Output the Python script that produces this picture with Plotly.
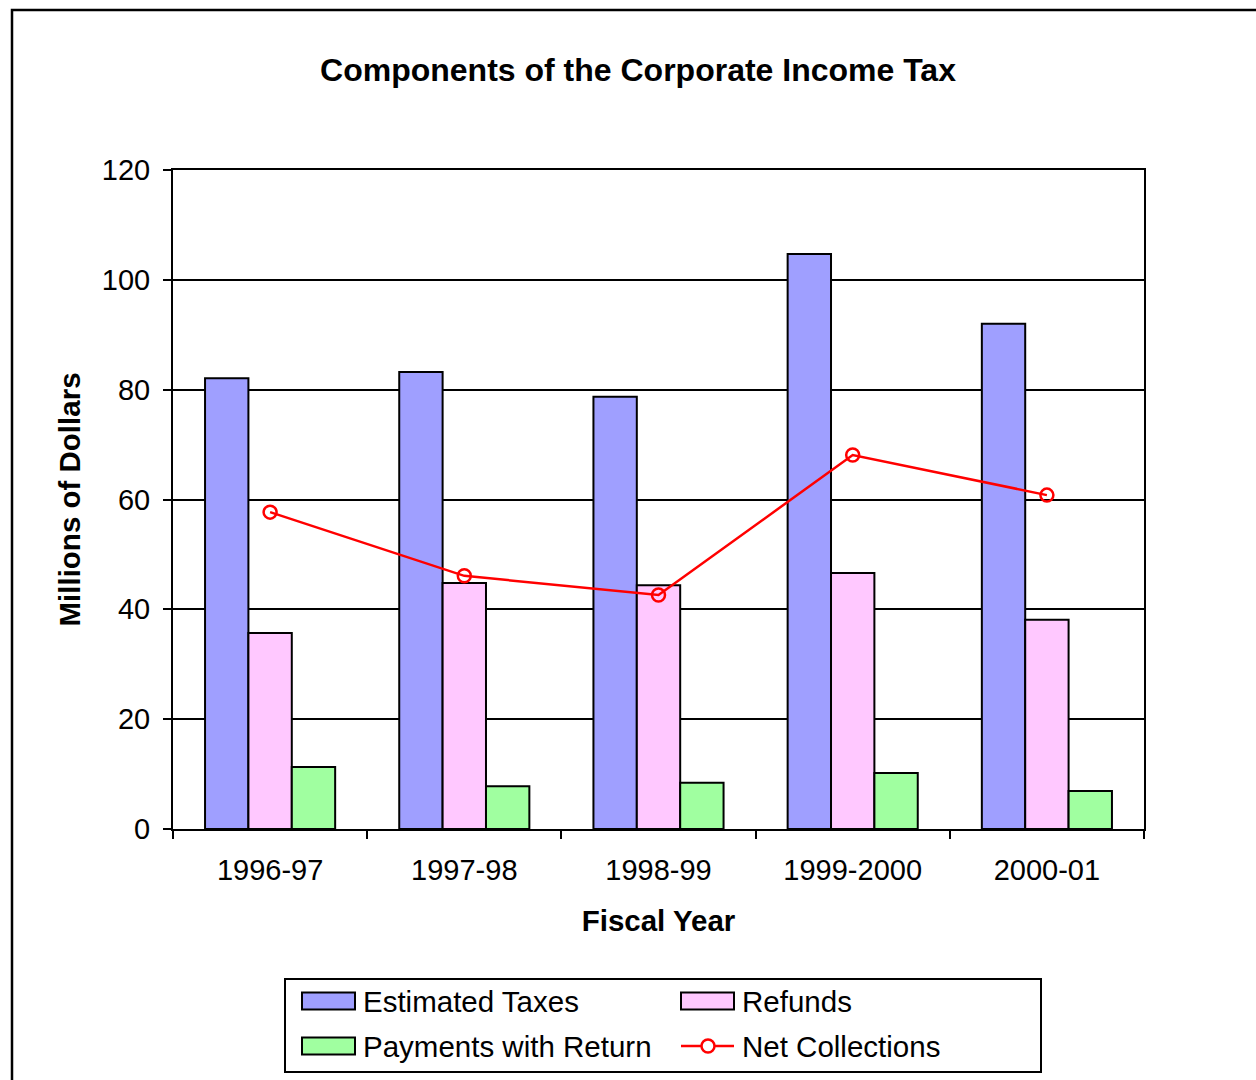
import plotly.graph_objects as go

# Fiscal years and the components of the corporate income tax (millions of dollars)
fiscal_years = ["1996-97", "1997-98", "1998-99", "1999-2000", "2000-01"]
estimated_taxes = [82.1, 83.2, 78.7, 104.7, 92.0]
refunds = [35.7, 44.8, 44.4, 46.6, 38.1]
payments_with_return = [11.3, 7.8, 8.4, 10.2, 6.9]
net_collections = [57.7, 46.1, 42.6, 68.1, 60.8]

series_names = ["Estimated Taxes", "Refunds", "Payments with Return", "Net Collections"]
bar_colors = ["#9F9FFF", "#FFC8FF", "#A0FFA0"]
line_color = "#FF0000"

FONT = "Arial, Liberation Sans, sans-serif"
W, H = 1256, 1080
L, R, T, B = 173, 112, 170, 251
PW, PH = W - L - R, H - T - B


def px_to_paper(x, y):
    return (x - L) / PW, (H - B - y) / PH


fig = go.Figure()
bar_line = dict(color="black", width=2)
for name, vals, col in zip(series_names[:3],
                           [estimated_taxes, refunds, payments_with_return], bar_colors):
    fig.add_trace(go.Bar(x=fiscal_years, y=vals, name=name,
                         marker=dict(color=col, line=bar_line)))
fig.add_trace(go.Scatter(x=fiscal_years, y=net_collections, name=series_names[3],
                         mode="lines+markers",
                         line=dict(color=line_color, width=2.5),
                         marker=dict(symbol="circle-open", size=13, color=line_color,
                                     line=dict(color=line_color, width=2.5))))

shapes = []
annotations = []


def rect_px(x0, y0, x1, y1, **kw):
    px0, py1 = px_to_paper(x0, y0)
    px1, py0 = px_to_paper(x1, y1)
    shapes.append(dict(type="rect", xref="paper", yref="paper",
                       x0=px0, x1=px1, y0=py0, y1=py1, layer="above", **kw))


# outer chart frame
rect_px(12, 10, 1300, 1120, line=dict(color="black", width=2.5),
        fillcolor="rgba(0,0,0,0)")

# legend box with two columns of entries
rect_px(285, 979, 1041, 1072, line=dict(color="black", width=2), fillcolor="white")
legend_slots = [(302, 1001), (681, 1001), (302, 1046), (681, 1046)]
for idx, (sx, sy) in enumerate(legend_slots):
    if idx < 3:
        rect_px(sx, sy - 8.5, sx + 53, sy + 8.5, line=dict(color="black", width=2),
                fillcolor=bar_colors[idx])
    else:
        lx0, ly0 = px_to_paper(sx, sy)
        lx1, _ = px_to_paper(sx + 53, sy)
        shapes.append(dict(type="line", xref="paper", yref="paper", x0=lx0, x1=lx1,
                           y0=ly0, y1=ly0, line=dict(color=line_color, width=2.5),
                           layer="above"))
        rect_px(sx + 20.5, sy - 6.5, sx + 33.5, sy + 6.5,
                line=dict(color=line_color, width=2.5), fillcolor="white")
        shapes[-1]["type"] = "circle"
    tx, ty = px_to_paper(sx + 59, sy)
    annotations.append(dict(text=series_names[idx], xref="paper", yref="paper",
                            x=tx, y=ty, xanchor="left", yanchor="middle",
                            showarrow=False, font=dict(size=29.5, family=FONT)))

fig.update_layout(
    width=W, height=H,
    margin=dict(l=L, r=R, t=T, b=B),
    paper_bgcolor="white", plot_bgcolor="white",
    barmode="group", bargap=0.33, bargroupgap=0,
    showlegend=False,
    font=dict(family=FONT, size=29, color="black"),
    title=dict(text="<b>Components of the Corporate Income Tax</b>",
               x=638 / W, xanchor="center", y=1 - 70 / H, yanchor="middle",
               yref="container", font=dict(size=32, family=FONT)),
    shapes=shapes,
    annotations=annotations,
    xaxis=dict(type="category", showline=True, linecolor="black", linewidth=2,
               mirror=True, ticks="outside", ticklen=8, tickwidth=2, tickcolor="black",
               tickson="boundaries", ticklabelstandoff=14,
               title=dict(text="<b>Fiscal Year</b>", standoff=26,
                          font=dict(size=29.5, family=FONT))),
    yaxis=dict(range=[0, 120], dtick=20, showline=True, linecolor="black",
               linewidth=2, mirror=True, showgrid=True, gridcolor="black",
               gridwidth=2, ticks="outside", ticklen=8, tickwidth=2,
               tickcolor="black", ticklabelstandoff=7, zeroline=False,
               title=dict(text="<b>Millions of Dollars</b>", standoff=12,
                          font=dict(size=29.5, family=FONT))),
)

fig.write_html("out.html")
